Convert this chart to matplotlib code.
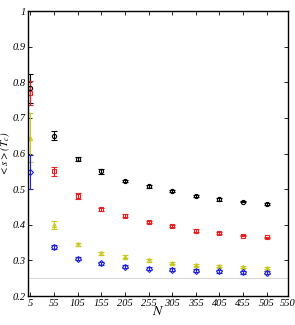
import matplotlib
matplotlib.use("Agg")
import matplotlib.pyplot as plt

plt.rcParams["font.family"] = "Liberation Serif"
plt.rcParams["font.style"] = "italic"
plt.rcParams["mathtext.fontset"] = "stix"

N = [5, 55, 105, 155, 205, 255, 305, 355, 405, 455, 505]

black = [0.783, 0.650, 0.585, 0.550, 0.523, 0.508, 0.495, 0.482, 0.472, 0.465, 0.458]
black_err = [0.040, 0.012, 0.006, 0.006, 0.003, 0.004, 0.003, 0.003, 0.004, 0.002, 0.002]
red = [0.770, 0.550, 0.480, 0.443, 0.426, 0.408, 0.396, 0.384, 0.377, 0.370, 0.365]
red_err = [0.035, 0.012, 0.008, 0.003, 0.004, 0.004, 0.003, 0.003, 0.003, 0.002, 0.002]
yellow = [0.645, 0.400, 0.345, 0.320, 0.310, 0.300, 0.292, 0.288, 0.285, 0.282, 0.280]
yellow_err = [0.068, 0.012, 0.005, 0.004, 0.004, 0.003, 0.003, 0.003, 0.003, 0.003, 0.003]
blue = [0.548, 0.338, 0.305, 0.292, 0.282, 0.277, 0.274, 0.271, 0.269, 0.267, 0.266]
blue_err = [0.048, 0.005, 0.005, 0.004, 0.004, 0.004, 0.004, 0.004, 0.004, 0.004, 0.004]

xticks = [5, 55, 105, 155, 205, 255, 305, 355, 405, 455, 505, 550]
yticks = [0.2, 0.3, 0.4, 0.5, 0.6, 0.7, 0.8, 0.9, 1]
ytick_labels = ["0.2", "0.3", "0.4", "0.5", "0.6", "0.7", "0.8", "0.9", "1"]

fig = plt.figure(figsize=(2.95, 3.25), dpi=100)
ax = fig.add_axes([0.095, 0.089, 0.881, 0.877])

ax.axhline(0.25, color="#cccccc", linewidth=0.6, zorder=0)

series = [
    (black, black_err, "black", "o"),
    (red, red_err, "#e82020", "s"),
    (yellow, yellow_err, "#c8c820", "^"),
    (blue, blue_err, "#2020e0", "D"),
]
for vals, errs, col, mk in series:
    ax.errorbar(N, vals, yerr=errs, fmt=mk, color=col, markersize=3,
                markerfacecolor="none", markeredgewidth=0.8, elinewidth=0.8,
                capsize=2.5, capthick=0.8)

ax.set_xlim(0, 550)
ax.set_ylim(0.2, 1)
ax.set_xticks(xticks)
ax.set_xticklabels([str(t) for t in xticks])
ax.set_yticks(yticks)
ax.set_yticklabels(ytick_labels)
ax.tick_params(direction="in", top=True, right=True, labelsize=7.5, length=3, width=0.6, pad=2)
ax.tick_params(axis="y", pad=1.5)
for sp in ax.spines.values():
    sp.set_linewidth(1.0)

ax.set_xlabel(r"$N$", fontsize=10, labelpad=-2)
ax.set_ylabel(r"$<s>(T_c)$", fontsize=8)
ax.yaxis.set_label_coords(-0.06, 0.5)

fig.savefig("out.png", dpi=100)
